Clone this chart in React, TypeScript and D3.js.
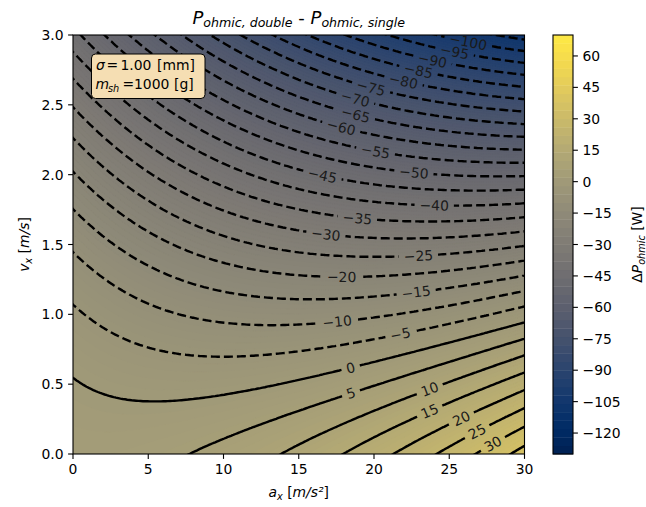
import React, { useMemo } from "react";
import * as d3 from "d3";

const W = 646;
const H = 507;
const X0 = 73;
const X1 = 524.5;
const Y0 = 454;
const Y1 = 35;

// ---- readings: (contour level, a_x, v_x) ----
const contourLevel = [
  0, 0, 0, 0, 0, 0, 0,
  5, 5, 5, 5, 5,
  10, 10, 10,
  15, 15, 15,
  20, 20, 20,
  25, 25, 25,
  30, 30, 30,
  35, 35,
  -5, -5, -5, -5,
  -10, -10, -10, -10,
  -15, -15, -15,
  -20, -20, -20,
  -25, -25,
  -30, -35, -40, -45, -50, -50, -55, -55,
  -60, -65, -70, -75, -80, -85, -90, -95, -100,
];
const contourA = [
  0, 5.5, 10, 15, 20, 25, 30,
  8.1, 15.1, 18.5, 25, 30,
  14, 23.7, 30,
  18.07, 23.6, 30,
  21.3, 25.8, 30,
  24.16, 26.8, 30,
  26.8, 27.8, 30,
  28.9, 30,
  0, 14.4, 21.7, 30,
  0, 14.4, 17.5, 30,
  14.4, 22.8, 30,
  14.4, 17.85, 30,
  22.9, 30,
  16.85, 18.85, 24.05, 16.6, 22.7, 2.0, 20.1, 3.65,
  17.85, 18.85, 18.7, 19.85, 21.95, 22.9, 23.9, 25.3, 26.4,
];
const contourV = [
  0.56, 0.37, 0.4, 0.52, 0.67, 0.81, 0.944,
  0, 0.3, 0.435, 0.655, 0.824,
  0, 0.466, 0.7,
  0, 0.315, 0.58,
  0, 0.267, 0.447,
  0, 0.16, 0.33,
  0, 0.077, 0.196,
  0, 0.065,
  1.1, 0.73, 0.86, 1.056,
  1.47, 0.925, 0.944, 1.16,
  1.116, 1.16, 1.27,
  1.28, 1.264, 1.38,
  1.42, 1.486,
  1.577, 1.69, 1.78, 1.99, 2.01, 3.0, 2.18, 3.0,
  2.35, 2.435, 2.53, 2.62, 2.67, 2.75, 2.82, 2.88, 2.955,
];

// contour label positions
const labelLevel = [0, 5, 10, 15, 20, 25, 30, -5, -10, -15, -20, -25, -30, -35, -40, -45, -50, -55, -60, -65, -70, -75, -80, -85, -90, -95, -100];
const labelA = [18.5, 18.5, 23.7, 23.6, 25.8, 26.8, 27.8, 21.7, 17.5, 22.8, 17.85, 22.9, 16.85, 18.85, 24.05, 16.6, 22.7, 20.1, 17.85, 18.85, 18.7, 19.85, 21.95, 22.9, 23.9, 25.3, 26.2];
const labelV = [0.626, 0.435, 0.466, 0.315, 0.267, 0.16, 0.077, 0.86, 0.944, 1.16, 1.264, 1.42, 1.577, 1.69, 1.78, 1.99, 2.01, 2.18, 2.35, 2.435, 2.53, 2.62, 2.67, 2.75, 2.82, 2.88, 2.96];

const xTicks = [0, 5, 10, 15, 20, 25, 30];
const yTicks = [0, 0.5, 1.0, 1.5, 2.0, 2.5, 3.0];
const cbTicks = [60, 45, 30, 15, 0, -15, -30, -45, -60, -75, -90, -105, -120];
const cbMin = -130;
const cbMax = 70;
const cbStep = 4;
const lineLevels = d3.range(-125, 70, 5);

const FONT = "DejaVu Sans, sans-serif";
const FS = 13.9;

function fitSurface() {
  const basis = (a: number, v: number) => {
    const x = a / 30, y = v / 3;
    return [1, x, x * x, y, y * y, x * y];
  };
  const n = 6;
  const M: number[][] = Array.from({ length: n }, () => new Array(n + 1).fill(0));
  contourLevel.forEach((L, k) => {
    const b = basis(contourA[k], contourV[k]);
    for (let r = 0; r < n; r++) {
      for (let c = 0; c < n; c++) M[r][c] += b[r] * b[c];
      M[r][n] += b[r] * L;
    }
  });
  for (let i = 0; i < n; i++) {
    let p = i;
    for (let r = i + 1; r < n; r++) if (Math.abs(M[r][i]) > Math.abs(M[p][i])) p = r;
    [M[i], M[p]] = [M[p], M[i]];
    for (let r = 0; r < n; r++) {
      if (r === i) continue;
      const f = M[r][i] / M[i][i];
      for (let c = i; c <= n; c++) M[r][c] -= f * M[i][c];
    }
  }
  const coef = M.map((row, i) => row[n] / row[i]);
  return (a: number, v: number) => {
    const b = basis(a, v);
    let s = 0;
    for (let i = 0; i < n; i++) s += b[i] * coef[i];
    return s;
  };
}

const minus = (s: string) => s.replace("-", "\u2212");

function textWidth(s: string, fs: number) {
  let w = 0;
  for (const ch of s) w += ch === "\u2212" ? 0.838 : 0.636;
  return w * fs;
}

const cmap = (v: number) => d3.interpolateCividis(Math.max(0, Math.min(1, (v - cbMin) / (cbMax - cbMin))));

export default function App() {
  const xScale = d3.scaleLinear().domain([0, 30]).range([X0, X1]);
  const yScale = d3.scaleLinear().domain([0, 3]).range([Y0, Y1]);
  const cbScale = d3.scaleLinear().domain([cbMin, cbMax]).range([Y0, Y1]);

  const { fills, lines, labels } = useMemo(() => {
    const f = fitSurface();
    const aMin = -1.5, aMax = 31.5, vMin = -0.15, vMax = 3.15;
    const nx = 221, ny = 221;
    const da = (aMax - aMin) / (nx - 1);
    const dv = (vMax - vMin) / (ny - 1);
    const values = new Array(nx * ny);
    for (let j = 0; j < ny; j++)
      for (let i = 0; i < nx; i++) values[j * nx + i] = f(aMin + i * da, vMin + j * dv);
    const gen = d3.contours().size([nx, ny]);
    const toPx = (p: number[]) => [xScale(aMin + (p[0] - 0.5) * da), yScale(vMin + (p[1] - 0.5) * dv)];
    const ringsOf = (T: number) =>
      gen.contour(values, T).coordinates.flatMap((poly: any) => poly).map((ring: any) => ring.map(toPx));
    const pathOf = (rings: number[][][]) =>
      rings.map((r) => "M" + r.map((p) => p[0].toFixed(1) + "," + p[1].toFixed(1)).join("L") + "Z").join("");

    // fine fill so the field looks smooth
    const fillStep = 1;
    const fills = d3.range(cbMin, cbMax, fillStep).map((T) => ({
      T,
      d: pathOf(ringsOf(T)),
      color: cmap(T + fillStep / 2),
    })).filter((f) => f.d.length > 0);
    const lineRings = new Map<number, number[][][]>();
    const lines = lineLevels.map((L) => {
      const rings = ringsOf(L);
      lineRings.set(L, rings);
      return { L, d: pathOf(rings) };
    });
    const labels = labelLevel.map((L, k) => {
      const px = xScale(labelA[k]), py = yScale(labelV[k]);
      const rings = lineRings.get(L) || [];
      let best = { d: Infinity, x: px, y: py, ang: 0 };
      rings.forEach((r) => {
        const m = r.length;
        r.forEach((p, i) => {
          if (p[0] < X0 + 1 || p[0] > X1 - 1 || p[1] < Y1 + 1 || p[1] > Y0 - 1) return;
          const d = (p[0] - px) ** 2 + (p[1] - py) ** 2;
          if (d < best.d) {
            const a = r[(i - 4 + m) % m], b = r[(i + 4) % m];
            let ang = (Math.atan2(b[1] - a[1], b[0] - a[0]) * 180) / Math.PI;
            if (ang > 90) ang -= 180;
            if (ang <= -90) ang += 180;
            best = { d, x: p[0], y: p[1], ang };
          }
        });
      });
      const text = minus(String(L));
      return { L, x: best.x, y: best.y, ang: best.ang, text, w: textWidth(text, FS) };
    });
    return { fills, lines, labels };
  }, []);

  const cbBands = d3.range(cbMin, cbMax, cbStep);

  return (
    <svg width={W} height={H} style={{ position: "absolute", left: 0, top: 0, background: "#fff" }} fontFamily={FONT}>
      <defs>
        <clipPath id="axclip">
          <rect x={X0} y={Y1} width={X1 - X0} height={Y0 - Y1} />
        </clipPath>
        <mask id="lblmask" maskUnits="userSpaceOnUse" x={0} y={0} width={W} height={H}>
          <rect x={0} y={0} width={W} height={H} fill="white" />
          {labels.map((l, i) => (
            <rect key={i} x={-l.w / 2 - 5} y={-7} width={l.w + 10} height={14} fill="black"
              transform={`translate(${l.x},${l.y}) rotate(${l.ang})`} />
          ))}
        </mask>
      </defs>
      <rect x={0} y={0} width={W} height={H} fill="#fff" />
      <g clipPath="url(#axclip)">
        {fills.map((f) => (
          <path key={f.T} d={f.d} fill={f.color} stroke={f.color} strokeWidth={0.4} />
        ))}
        <g mask="url(#lblmask)">
          {lines.map((l) => (
            <path key={l.L} d={l.d} fill="none" stroke="#000" strokeWidth={2.4}
              strokeDasharray={l.L < 0 ? "9,4" : undefined} />
          ))}
        </g>
      </g>
      {labels.map((l, i) => (
        <text key={i} x={0} y={0} fontSize={FS} fill="#1a1a1a" textAnchor="middle" dominantBaseline="central"
          transform={`translate(${l.x},${l.y}) rotate(${l.ang})`}>{l.text}</text>
      ))}
      <rect x={X0} y={Y1} width={X1 - X0} height={Y0 - Y1} fill="none" stroke="#000" strokeWidth={1.1} />
      {xTicks.map((t) => (
        <g key={t}>
          <line x1={xScale(t)} x2={xScale(t)} y1={Y0} y2={Y0 + 4.9} stroke="#000" strokeWidth={1.1} />
          <text x={xScale(t)} y={Y0 + 20.3} fontSize={FS} textAnchor="middle" fill="#000">{t}</text>
        </g>
      ))}
      {yTicks.map((t) => (
        <g key={t}>
          <line x1={X0 - 4.9} x2={X0} y1={yScale(t)} y2={yScale(t)} stroke="#000" strokeWidth={1.1} />
          <text x={X0 - 9.5} y={yScale(t)} fontSize={FS} textAnchor="end" dominantBaseline="central" fill="#000">{t.toFixed(1)}</text>
        </g>
      ))}
      <text x={(X0 + X1) / 2} y={497} fontSize={FS} textAnchor="middle" fill="#000">
        <tspan fontStyle="italic">a</tspan>
        <tspan fontStyle="italic" fontSize={FS * 0.7} dy={3}>x</tspan>
        <tspan dy={-3}> [</tspan>
        <tspan fontStyle="italic">m/s²</tspan>
        <tspan>]</tspan>
      </text>
      <text transform={`translate(29,${(Y0 + Y1) / 2}) rotate(-90)`} fontSize={FS} textAnchor="middle" fill="#000">
        <tspan fontStyle="italic">v</tspan>
        <tspan fontStyle="italic" fontSize={FS * 0.7} dy={3}>x</tspan>
        <tspan dy={-3}> [</tspan>
        <tspan fontStyle="italic">m/s</tspan>
        <tspan>]</tspan>
      </text>
      <text x={(X0 + X1) / 2} y={23.5} fontSize={18} textAnchor="middle" fill="#000">
        <tspan fontStyle="italic">P</tspan>
        <tspan fontStyle="italic" fontSize={12.6} dy={3.5}>ohmic, double</tspan>
        <tspan dy={-3.5}> - </tspan>
        <tspan fontStyle="italic">P</tspan>
        <tspan fontStyle="italic" fontSize={12.6} dy={3.5}>ohmic, single</tspan>
      </text>
      {/* annotation box */}
      <rect x={91.5} y={54} width={113.5} height={44.5} rx={4} fill="#f5deb3" stroke="#000" strokeWidth={1} />
      <text y={69.5} fontSize={FS} fill="#000">
        <tspan x={96} fontStyle="italic">σ</tspan>
        <tspan x={106.5}>=</tspan>
        <tspan x={120.5}>1.00</tspan>
        <tspan x={157}>[mm]</tspan>
      </text>
      <text y={89} fontSize={FS} fill="#000">
        <tspan x={95.5} fontStyle="italic">m</tspan>
        <tspan x={108} fontStyle="italic" fontSize={FS * 0.7} dy={3}>sh</tspan>
        <tspan x={122.5} dy={-3}>=</tspan>
        <tspan x={134}>1000</tspan>
        <tspan x={174}>[g]</tspan>
      </text>
      {/* colorbar */}
      {cbBands.map((T) => (
        <rect key={T} x={553} width={20} y={cbScale(T + cbStep)} height={cbScale(T) - cbScale(T + cbStep) + 0.4}
          fill={cmap(T + cbStep / 2)} />
      ))}
      <rect x={553} y={Y1} width={20} height={Y0 - Y1} fill="none" stroke="#000" strokeWidth={1.1} />
      {cbTicks.map((t) => (
        <g key={t}>
          <line x1={573} x2={577.9} y1={cbScale(t)} y2={cbScale(t)} stroke="#000" strokeWidth={1.1} />
          <text x={582.5} y={cbScale(t)} fontSize={FS} dominantBaseline="central" fill="#000">{minus(String(t))}</text>
        </g>
      ))}
      <text transform={`translate(641.5,${(Y0 + Y1) / 2}) rotate(-90)`} fontSize={FS} textAnchor="middle" fill="#000">
        <tspan>Δ</tspan>
        <tspan fontStyle="italic">P</tspan>
        <tspan fontStyle="italic" fontSize={FS * 0.7} dy={3}>ohmic</tspan>
        <tspan dy={-3}> [W]</tspan>
      </text>
    </svg>
  );
}
